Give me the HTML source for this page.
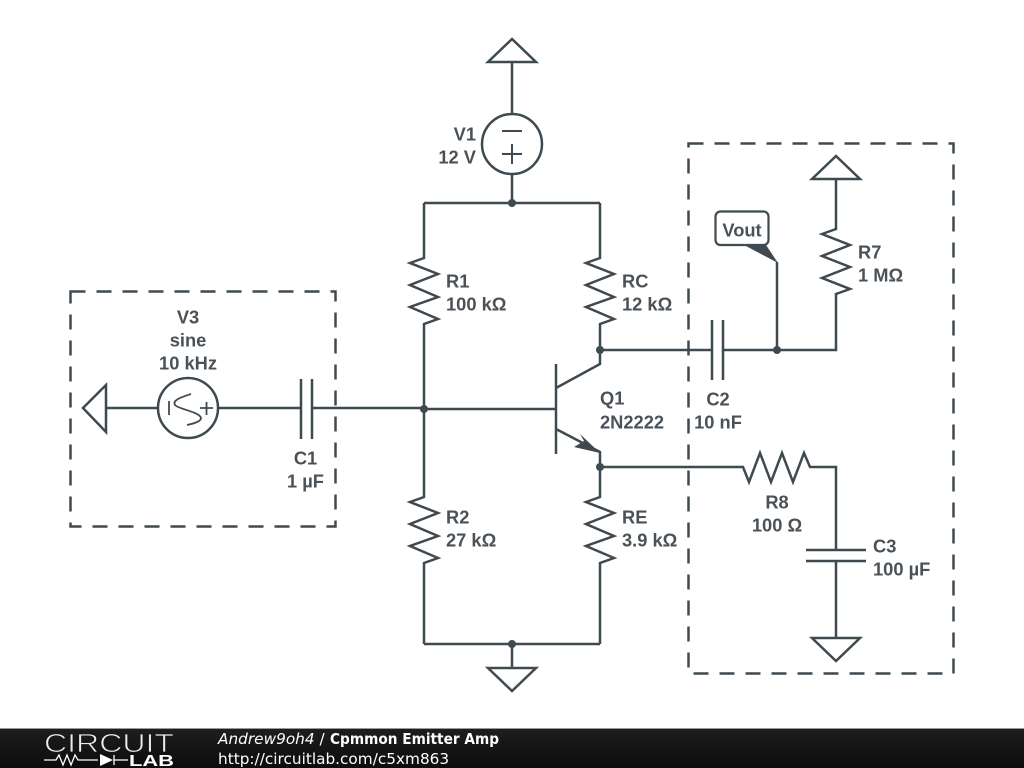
<!DOCTYPE html>
<html>
<head>
<meta charset="utf-8">
<style>
html,body{margin:0;padding:0;background:#fff;width:1024px;height:768px;overflow:hidden}
svg{display:block}
.w{fill:none;stroke:#3f4a50;stroke-width:2.5;stroke-linejoin:miter;stroke-linecap:butt}
.t{font-family:"Liberation Sans",sans-serif;font-size:18.300px;font-weight:bold;fill:#4a5258}
.m{text-anchor:middle}
.e{text-anchor:end}
.f{font-family:"DejaVu Sans",sans-serif;font-size:15.300px;fill:#fff}
</style>
</head>
<body>
<svg width="1024" height="768" viewBox="0 0 1024 768" xmlns="http://www.w3.org/2000/svg">
<defs>
<linearGradient id="g" x1="0" y1="0" x2="0" y2="1"><stop offset="0" stop-color="#1e1e1e"/><stop offset="1" stop-color="#0c0c0c"/></linearGradient>
</defs>
<rect width="1024" height="768" fill="#fff"/>

<!-- dashed boxes -->
<rect class="w" x="70.500" y="291.500" width="265" height="235" stroke-dasharray="15 11"/>
<rect class="w" x="688.500" y="143.500" width="265" height="530" stroke-dasharray="15 11"/>

<!-- V1 and top ground -->
<path class="w" d="M512 62V114M512 174V203M424 203H600"/>
<path class="w" d="M512 39L488 62H536Z"/>
<circle class="w" cx="512" cy="144" r="30"/>
<path class="w" style="stroke-width:2" d="M502 131H522M502 154H522M512 144V164"/>

<!-- R1, R2 -->
<path class="w" d="M424 203V258L410 263L438 274L410 285L438 297L410 307L438 319L424 324V497L410 502L438 513L410 524L438 536L410 546L438 558L424 563V644"/>
<!-- RC, RE -->
<path class="w" d="M600 203V258L586 263L614 274L586 285L614 297L586 307L614 319L600 324V364L556 388"/>
<path class="w" d="M556 429L600 452V497L586 502L614 513L586 524L614 536L586 546L614 558L600 563V644"/>
<path class="w" d="M424 644H600M512 644V668"/>
<path class="w" d="M488 668H536L512 691Z"/>

<!-- transistor -->
<path class="w" d="M556 364V454M424 409H556"/>
<path d="M580 434L600 453L574 447L584 441Z" fill="#3f4a50"/>

<!-- input -->
<path class="w" d="M106 408H158M218 408H301M312 408H424"/>
<path class="w" d="M83 408L106 385V432Z"/>
<circle class="w" cx="188" cy="408" r="30"/>
<path class="w" style="stroke-width:1.800" d="M169 401V415M200 408H213M206.500 402V415M191 394C182 397 172 400 175 405C178 409 200 412 201 418C201 421 196 423 187 425"/>
<path class="w" d="M301 379V439M312 379V439"/>

<!-- output -->
<path class="w" d="M600 350H712M723 350H836V294L850 289L822 278L850 267L822 256L850 245L822 234L836 229V179"/>
<path class="w" d="M712 320V380M723 320V380"/>
<path class="w" d="M836 156L812 179H860Z"/>
<path class="w" d="M777 350V262"/>
<path d="M744 245L766 245L778 263Z" fill="#3f4a50"/>
<rect x="715.500" y="211.500" width="53" height="33.500" rx="5" fill="#fff" stroke="#3f4a50" stroke-width="2.200"/>

<!-- emitter output -->
<path class="w" d="M600 467H743L749 482L760 453L771 482L782 453L793 482L804 453L810 467H836V550M836 561V638"/>
<path class="w" d="M806 550H866M806 561H866"/>
<path class="w" d="M812 638H860L836 661Z"/>

<!-- junctions -->
<g fill="#3f4a50">
<circle cx="512" cy="203" r="4"/><circle cx="512" cy="644" r="4"/>
<circle cx="424" cy="409" r="4"/><circle cx="600" cy="350" r="4"/>
<circle cx="600" cy="467" r="4"/><circle cx="777" cy="350" r="4"/>
</g>

<!-- labels -->
<text class="t e" x="476" y="140.500">V1</text>
<text class="t e" x="476" y="163.500">12 V</text>
<text class="t" x="446" y="287.500">R1</text>
<text class="t" x="446" y="310.500">100 kΩ</text>
<text class="t" x="622" y="287.500">RC</text>
<text class="t" x="622" y="310.500">12 kΩ</text>
<text class="t" x="446" y="523.500">R2</text>
<text class="t" x="446" y="546.500">27 kΩ</text>
<text class="t" x="622" y="523.500">RE</text>
<text class="t" x="622" y="546.500">3.9 kΩ</text>
<text class="t" x="600" y="404.500">Q1</text>
<text class="t" x="600" y="428.500">2N2222</text>
<text class="t m" x="188" y="323.500">V3</text>
<text class="t m" x="188" y="346.500">sine</text>
<text class="t m" x="188" y="369.500">10 kHz</text>
<text class="t m" x="305.500" y="464.500">C1</text>
<text class="t m" x="305.500" y="487.500">1 µF</text>
<text class="t m" x="718" y="405.500">C2</text>
<text class="t m" x="718" y="428.500">10 nF</text>
<text class="t m" x="777" y="508.500">R8</text>
<text class="t m" x="777" y="531.500">100 Ω</text>
<text class="t" x="873" y="552.500">C3</text>
<text class="t" x="873" y="575.500">100 µF</text>
<text class="t" x="858" y="258.500">R7</text>
<text class="t" x="858" y="281.500">1 MΩ</text>
<text class="t m" x="742" y="236.500">Vout</text>

<!-- footer -->
<rect x="0" y="729" width="1024" height="39" fill="url(#g)"/>
<rect x="0" y="728" width="1024" height="1" fill="#999"/>
<text x="44" y="752" font-family="'Liberation Sans',sans-serif" font-size="26" fill="#eee" stroke="#171717" stroke-width="0.800" textLength="130" lengthAdjust="spacingAndGlyphs">CIRCUIT</text>
<path d="M44 760H56L59 755L63 765L67 755L71 765L75 755L78 760H98M114 760H128M114 755V765" fill="none" stroke="#fff" stroke-width="1.300"/>
<path d="M100 754V766L113 760Z" fill="#fff"/>
<text x="129" y="766" font-family="'Liberation Sans',sans-serif" font-size="16" font-weight="bold" fill="#fff" textLength="45" lengthAdjust="spacingAndGlyphs">LAB</text>
<text class="f" x="218" y="744" font-style="italic">Andrew9oh4 <tspan font-style="normal">/</tspan></text>
<text class="f" x="330" y="744" font-weight="bold" textLength="169" lengthAdjust="spacingAndGlyphs">Cpmmon Emitter Amp</text>
<text class="f" x="218" y="764">http://circuitlab.com/c5xm863</text>
</svg>
</body>
</html>
